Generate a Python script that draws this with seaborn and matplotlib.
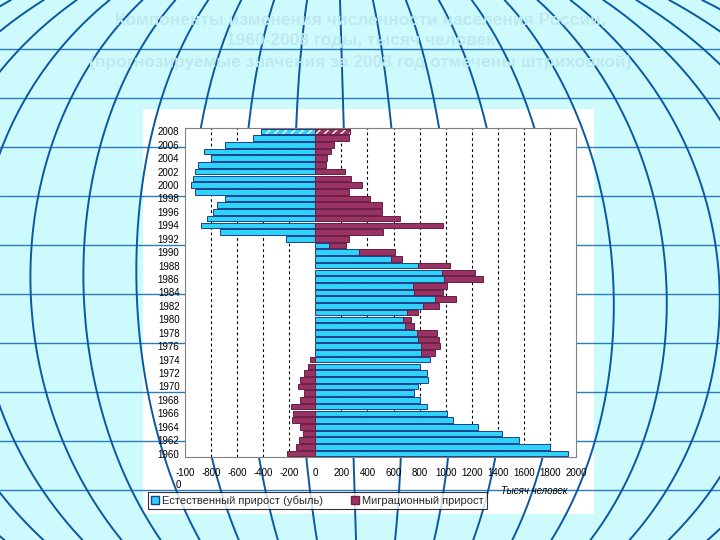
import numpy as np
import pandas as pd
import matplotlib
matplotlib.use("Agg")
import matplotlib.pyplot as plt
from matplotlib.patches import Rectangle, Patch
import seaborn as sns

# Components of population change in Russia, thousands
years = list(range(1960, 2009))
natural = [1940, 1801, 1566, 1434, 1249, 1055, 1009, 857, 800, 759,
           787, 862, 857, 800, 877, 808, 813, 784, 777, 689,
           676, 707, 823, 916, 759, 753, 986, 970, 784, 581,
           335, 103, -222, -735, -880, -833, -787, -751, -694, -926,
           -955, -942, -926, -900, -797, -851, -694, -477, -420]
migration = [-214, -152, -124, -98, -116, -178, -173, -186, -116, -85,
             -132, -116, -90, -60, -42, 108, 144, 165, 160, 70,
             57, 80, 124, 165, 219, 255, 299, 258, 250, 83,
             274, 132, 261, 521, 978, 650, 508, 513, 423, 261,
             356, 276, 227, 83, 90, 121, 145, 255, 268]
forecast_year = 2008

title_lines = ["Компоненты изменения численности населения России,",
               "1960-2008 годы, тысяч человек",
               "(прогнозируемые значения за 2008 год отмечены штриховкой)"]
legend_labels = ["Естественный прирост (убыль)", "Миграционный прирост"]
x_ticks = list(range(-1000, 2001, 200))
x_tick_labels = ["-100\n0"] + [str(v) for v in x_ticks[1:]]
unit_label = "Тысяч человек"

NAT_COLOR = "#2fd3f7"
NAT_EDGE = "#1b3f8f"
MIG_COLOR = "#993366"
MIG_EDGE = "#6b1f40"
BG = "#cdfafd"

sns.set_theme(style="white")
plt.rcParams["font.family"] = ["Liberation Sans", "DejaVu Sans"]

fig = plt.figure(figsize=(7.2, 5.4), dpi=100, facecolor=BG)

# slide background: globe-like grid
bg = fig.add_axes([0, 0, 1, 1], zorder=0)
bg.set_xlim(0, 720)
bg.set_ylim(540, 0)
bg.axis("off")
for k in range(1, 11):
    bg.axhline(49 * k, color="#2b7cb8", lw=1.0)
yy = np.linspace(0, 540, 400)
g = np.sqrt(1 - ((yy - 290) / 370) ** 2)
cx = 340 + 16 * yy / 540
for k in range(-13, 14):
    bg.plot(cx + 53 * k * g, yy, color="#0a58a3", lw=1.4)
bg.add_patch(Rectangle((143, 109), 451, 405, facecolor="white", edgecolor="none"))

# title is very faint on the slide
for i, line in enumerate(title_lines):
    bg.text(360, 20 + 21 * i, line, ha="center", va="center", fontsize=12.5,
            fontweight="bold", color="#bde9ef")

bg.text(567, 491, unit_label, ha="right", va="center", fontsize=7,
        style="italic", color="black")

# main chart
ax = fig.add_axes([185 / 720, 1 - 457 / 540, (576 - 185) / 720, (457 - 128) / 540],
                  zorder=2)
ax.set_facecolor("white")

df = pd.DataFrame({"year": [str(y) for y in years],
                   "natural": natural,
                   "migration": migration})
order = [str(y) for y in reversed(years)]
df = df.set_index("year").loc[order].reset_index()

sns.barplot(data=df, x="natural", y="year", order=order, color=NAT_COLOR,
            saturation=1, errorbar=None, width=0.85, edgecolor=NAT_EDGE,
            linewidth=0.7, ax=ax, zorder=2)

# migration stacked on the same side as the natural bar when signs agree
pos = np.arange(len(order))
nat = df["natural"].to_numpy()
mig = df["migration"].to_numpy()
mig_left = np.where(nat * mig > 0, nat, 0)
ax.barh(pos, mig, left=mig_left, height=0.85, color=MIG_COLOR,
        edgecolor=MIG_EDGE, linewidth=0.7, zorder=2)

# hatching for the forecast year
fi = order.index(str(forecast_year))
for w, l, ec in [(nat[fi], 0, NAT_EDGE), (mig[fi], mig_left[fi], MIG_EDGE)]:
    ax.barh(fi, w, left=l, height=0.85, facecolor="none", edgecolor="white",
            hatch="////", linewidth=0, zorder=3)
    ax.barh(fi, w, left=l, height=0.85, facecolor="none", edgecolor=ec,
            linewidth=0.7, zorder=4)

for v in x_ticks[1:-1]:
    if v != 0:
        ax.axvline(v, color="black", lw=0.8, ls=(0, (2.5, 2.5)), zorder=0)

ax.set_xlim(-1000, 2000)
ax.set_ylim(len(order) - 0.5, -0.5)
ax.set_xticks(x_ticks, x_tick_labels)
for t in ax.get_xticklabels():
    t.set_multialignment("left")
even = [i for i, y in enumerate(order) if int(y) % 2 == 0]
ax.set_yticks(even, [order[i] for i in even])
ax.set_xlabel("")
ax.set_ylabel("")
ax.tick_params(axis="both", length=0, labelsize=7, labelcolor="black")
ax.tick_params(axis="x", pad=8)
ax.tick_params(axis="y", pad=4)
for s in ax.spines.values():
    s.set_color("#808080")
    s.set_linewidth(0.8)

handles = [Patch(facecolor=NAT_COLOR, edgecolor=NAT_EDGE),
           Patch(facecolor=MIG_COLOR, edgecolor=MIG_EDGE)]
leg = fig.legend(handles=handles, labels=legend_labels, loc="lower left",
                 bbox_to_anchor=(148 / 720, 1 - 509 / 540), ncol=2, fontsize=8,
                 frameon=True, fancybox=False, edgecolor="black",
                 handlelength=0.7, handleheight=0.7, handletextpad=0.3,
                 columnspacing=2.5, borderpad=0.3, borderaxespad=0)
leg.get_frame().set_linewidth(0.8)

fig.savefig("out.png", dpi=100, facecolor=BG)
